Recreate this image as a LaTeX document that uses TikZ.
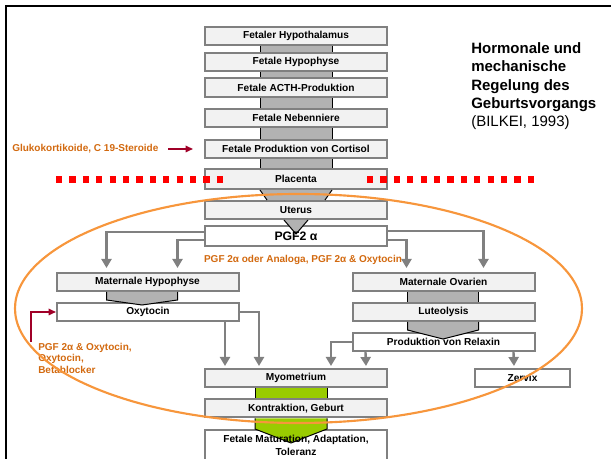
\documentclass[tikz,border=0pt]{standalone}
\usepackage{fontspec}
\setmainfont{Liberation Sans}
\usetikzlibrary{arrows.meta,calc}
\definecolor{boxfill}{RGB}{242,242,242}
\definecolor{boxline}{RGB}{128,128,128}
\definecolor{blockgray}{RGB}{178,178,178}
\definecolor{blockgreen}{RGB}{153,204,0}
\definecolor{arrowgray}{RGB}{128,128,128}
\definecolor{txtorange}{RGB}{210,105,15}
\definecolor{ellorange}{RGB}{247,150,60}
\definecolor{darkred}{RGB}{160,0,40}
\definecolor{dotred}{RGB}{255,0,0}
\newcommand\straightblk[5]{%
  \path ($(#1.south west)+(#3,0)$) coordinate (bA) ($(#1.south west)+(#4,0)$) coordinate (bB);
  \path (bA |- #2.north) coordinate (bC) (bB |- #2.north) coordinate (bD);
  \fill[#5] (bA) rectangle (bD);
  \draw[blkedge] (bA) -- (bC) (bB) -- (bD);
}
\newcommand\chevronblk[7]{%
  \path ($(#1.south west)+(#3,0)$) coordinate (bA) ($(#1.south west)+(#4,0)$) coordinate (bB);
  \path ($(bA |- #2.north)+(0,#5)$) coordinate (bC) ($(bB |- #2.north)+(0,#5)$) coordinate (bD);
  \path ($(bC)!0.5!(bD)$) coordinate (bM);
  \path ($(bM |- #2.north)+(0,#6)$) coordinate (bP);
  \fill[#7] (bA) -- (bC) -- (bP) -- (bD) -- (bB) -- cycle;
  \draw[blkedge] (bA) -- (bC) -- (bP) -- (bD) -- (bB);
}
\begin{document}
\begin{tikzpicture}[x=0.75pt,y=-0.75pt,
  box/.style={draw=boxline, fill=boxfill, line width=1.5pt, minimum width=136.5pt, minimum height=13.5pt, inner sep=0pt},
  wbox/.style={box, fill=white},
  lbl/.style={font=\bfseries\fontsize{7.6}{9.8}\selectfont, inner sep=0pt, align=center},
  otxt/.style={font=\bfseries\fontsize{7.5}{8.6}\selectfont, text=txtorange, inner sep=0pt},
  blkedge/.style={draw=black, line width=0.75pt},
  garrow/.style={draw=arrowgray, line width=1.8pt, -{Triangle[length=6.75pt,width=7.5pt]}},
  rarrow/.style={draw=darkred, line width=1.5pt, -{Triangle[length=5.5pt,width=4.8pt]}},
  reddots/.style={draw=dotred, line width=5pt, dash pattern=on 4.7pt off 5.35pt},
  ell/.style={draw=ellorange, line width=1.6pt}]
\useasboundingbox (0,0) rectangle (611,459);
\clip (0,0) rectangle (611,459);
% frame
\draw[line width=1.9pt] (6,460) -- (6,6) -- (612,6);
% box shapes
\node[box] (hypo) at (296,36) {};
\node[box] (hyph) at (296,62) {};
\node[box, minimum height=14.25pt] (acth) at (296,87.5) {};
\node[box] (neben) at (296,118) {};
\node[box] (cort) at (296,149) {};
\node[box, minimum height=15pt] (plac) at (296,179) {};
\node[box] (uter) at (296,210) {};
\node[wbox, minimum height=15pt] (pgf) at (296,236) {};
\node[box] (mhyp) at (147.5,282) {};
\node[box] (movar) at (443.5,282) {};
\node[wbox] (oxy) at (148,312) {};
\node[box] (lut) at (443.5,312) {};
\node[wbox] (relax) at (443.5,342) {};
\node[box] (myo) at (296,378) {};
\node[wbox, minimum width=71.25pt] (zerv) at (522.5,378) {};
\node[box] (kontr) at (296,408.5) {};
\node[wbox, minimum height=25.5pt] (matur) at (296,447) {};
% block arrows
\straightblk{hypo}{hyph}{56}{128}{blockgray}
\straightblk{hyph}{acth}{56}{128}{blockgray}
\straightblk{acth}{neben}{56}{128}{blockgray}
\straightblk{neben}{cort}{56}{128}{blockgray}
\straightblk{cort}{plac}{56}{128}{blockgray}
\path ($(plac.south west)+(56,0)$) coordinate (tA) ($(plac.south west)+(128,0)$) coordinate (tB);
\path ($(uter.north west)+(63,0)$) coordinate (tC) ($(uter.north west)+(121,0)$) coordinate (tD);
\fill[blockgray] (tA) -- (tC) -- (tD) -- (tB) -- cycle;
\draw[blkedge] (tA) -- (tC) (tB) -- (tD);
\path ($(uter.south west)+(80,0)$) coordinate (uA) ($(uter.south west)+(104,0)$) coordinate (uB);
\path ($(pgf.north)+(0,9)$) coordinate (uP);
\fill[blockgray] (uA) -- (uP) -- (uB) -- cycle;
\draw[blkedge] (uA) -- (uP) -- (uB);
\chevronblk{mhyp}{oxy}{51}{122}{-2}{3}{blockgray}
\straightblk{movar}{lut}{56}{127}{blockgray}
\chevronblk{lut}{relax}{56}{127}{-2}{7}{blockgray}
\straightblk{myo}{kontr}{51}{123}{blockgreen}
\chevronblk{kontr}{matur}{51}{123}{0}{14}{blockgreen}
% gray arrows
\draw[garrow] ($(pgf.west)+(0,-4)$) -| ($(mhyp.north west)+(51,-4)$);
\draw[garrow] ($(pgf.west)+(0,4)$) -| ($(mhyp.north west)+(122,-4)$);
\draw[garrow] ($(pgf.east)+(0,4)$) -| ($(movar.north west)+(55,-4)$);
\draw[garrow] ($(pgf.east)+(0,-5)$) -| ($(movar.north west)+(132,-4)$);
\draw[garrow] ($(oxy.south west)+(169,0)$) -- ($(myo.north west)+(21,-2)$);
\draw[garrow] (oxy.east) -| ($(myo.north west)+(55,-2)$);
\draw[garrow] (relax.west) -| ($(myo.north west)+(127,-2)$);
\draw[garrow] ($(relax.south west)+(14,0)$) -- ($(myo.north west)+(162,-2)$);
\draw[garrow] ($(relax.south west)+(162,0)$) -- ($(zerv.north west)+(40,-2)$);
% box labels
\node[lbl] at (hypo) {Fetaler Hypothalamus};
\node[lbl] at (hyph) {Fetale Hypophyse};
\node[lbl] at (acth) {Fetale ACTH-Produktion};
\node[lbl] at (neben) {Fetale Nebenniere};
\node[lbl] at (cort) {Fetale Produktion von Cortisol};
\node[lbl] at (plac) {Placenta};
\node[lbl] at (uter) {Uterus};
\node[lbl, font=\bfseries\fontsize{9.2}{11}\selectfont] at (pgf) {PGF2 α};
\node[lbl] at (mhyp) {Maternale Hypophyse};
\node[lbl] at (movar) {Maternale Ovarien};
\node[lbl] at (oxy) {Oxytocin};
\node[lbl] at (lut) {Luteolysis};
\node[lbl] at (relax) {Produktion von Relaxin};
\node[lbl] at (myo) {Myometrium};
\node[lbl] at (zerv) {Zervix};
\node[lbl] at (kontr) {Kontraktion, Geburt};
\node[lbl] at ($(matur)+(0,-1.5)$) {Fetale Maturation, Adaptation,\\Toleranz};
% side texts
\node[otxt, anchor=west] (gluko) at (12,149) {Glukokortikoide, C 19-Steroide};
\draw[rarrow] ($(cort.west)+(-36,0)$) -- ($(cort.west)+(-11,0)$);
\node[otxt] (pgftxt) at (303,260) {PGF 2α oder Analoga, PGF 2α \& Oxytocin};
\node[otxt, anchor=north west, align=left] (lefttxt) at (38,343) {PGF 2α \& Oxytocin,\\Oxytocin,\\Betablocker};
\draw[rarrow] ($(oxy.west)+(-25,30)$) |- (oxy.west);
\node[anchor=north west, inner sep=0pt, align=left, font=\fontsize{11.25}{13.7}\selectfont] (title) at (471,42.5)
  {\textbf{Hormonale und}\\\textbf{mechanische}\\\textbf{Regelung des}\\\textbf{Geburtsvorgangs}\\(BILKEI, 1993)};
% placenta barrier
\draw[reddots] (56,179.5) -- (224,179.5);
\draw[reddots] (367,179.5) -- (535,179.5);
% ellipse
\draw[ell] (298.5,308.5) ellipse [x radius=283.5, y radius=114.5];
\end{tikzpicture}
\end{document}
